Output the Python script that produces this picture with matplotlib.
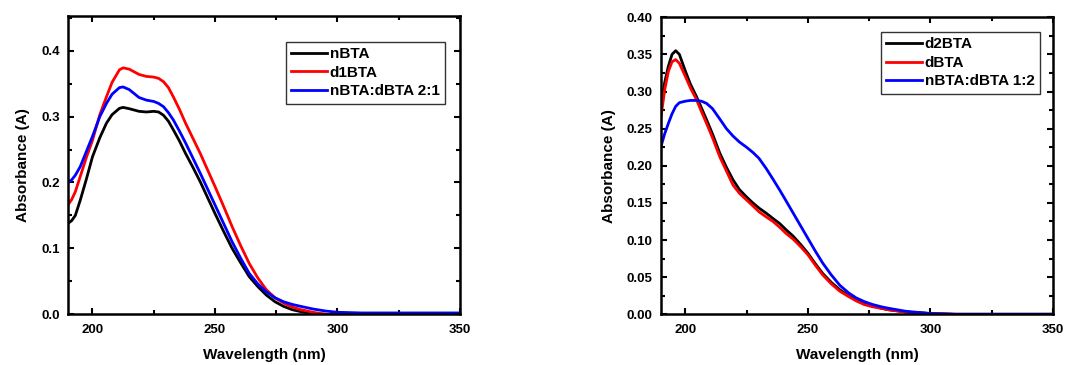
import numpy as np
import matplotlib
matplotlib.use("Agg")
from matplotlib import pyplot as plt
from matplotlib.ticker import MultipleLocator, FormatStrFormatter

# left panel data
wl_a = [190, 191.5, 193, 195, 197.5, 200, 203, 205.7, 208, 211, 212.5, 215, 219, 222, 225, 227, 229, 231, 233,
        235.5, 238, 241, 244, 247, 250, 253.5, 257, 260.5, 264, 267.5, 271, 274.5, 278, 281.5, 285, 290, 295,
        300, 310, 320, 330, 340, 350]
nbta = [0.138, 0.142, 0.150, 0.173, 0.205, 0.239, 0.268, 0.290, 0.303, 0.3125, 0.314, 0.312, 0.308, 0.307, 0.308,
        0.307, 0.302, 0.293, 0.280, 0.263, 0.244, 0.223, 0.201, 0.177, 0.153, 0.126, 0.100, 0.078, 0.057, 0.042,
        0.029, 0.019, 0.012, 0.007, 0.004, 0.001, 0.0, -0.001, -0.002, -0.002, -0.002, -0.001, -0.001]
d1bta = [0.166, 0.174, 0.186, 0.209, 0.238, 0.264, 0.303, 0.330, 0.352, 0.371, 0.374, 0.372, 0.364, 0.361, 0.360,
         0.358, 0.353, 0.344, 0.330, 0.311, 0.290, 0.267, 0.244, 0.219, 0.194, 0.164, 0.133, 0.104, 0.077, 0.055,
         0.037, 0.025, 0.017, 0.011, 0.007, 0.003, 0.0, -0.001, -0.003, -0.003, -0.003, -0.002, -0.002]
blend21 = [0.200, 0.204, 0.211, 0.224, 0.247, 0.270, 0.300, 0.320, 0.334, 0.344, 0.345, 0.341, 0.329, 0.325, 0.323,
           0.320, 0.315, 0.306, 0.295, 0.278, 0.260, 0.237, 0.214, 0.190, 0.166, 0.138, 0.110, 0.085, 0.062, 0.046,
           0.034, 0.025, 0.019, 0.015, 0.012, 0.008, 0.005, 0.003, 0.002, 0.002, 0.002, 0.002, 0.002]

# right panel data
wl_b = [190, 191.5, 193, 194.5, 196, 197.5, 200, 202, 204.5, 206.5, 208.6, 211, 214, 216.7, 219.4, 222, 224.9,
        227.5, 230, 233, 235.7, 238.5, 241, 244, 247, 250, 253, 256, 259.5, 263, 266.5, 269.7, 273, 276.5, 280,
        283, 290, 300, 310, 320, 335, 350]
d2bta = [0.280, 0.312, 0.334, 0.350, 0.355, 0.350, 0.327, 0.310, 0.293, 0.278, 0.262, 0.243, 0.217, 0.198, 0.181,
         0.168, 0.158, 0.150, 0.143, 0.136, 0.129, 0.122, 0.114, 0.105, 0.094, 0.082, 0.068, 0.055, 0.043, 0.033,
         0.025, 0.019, 0.014, 0.011, 0.008, 0.006, 0.003, 0.001, 0.0, 0.0, 0.0, 0.0]
dbta = [0.266, 0.302, 0.327, 0.340, 0.343, 0.338, 0.320, 0.305, 0.289, 0.273, 0.257, 0.238, 0.212, 0.193, 0.174,
        0.163, 0.154, 0.146, 0.138, 0.131, 0.125, 0.117, 0.109, 0.101, 0.091, 0.080, 0.066, 0.053, 0.041, 0.031,
        0.024, 0.018, 0.013, 0.010, 0.008, 0.006, 0.003, 0.001, 0.0, 0.0, 0.0, 0.0]
blend12 = [0.226, 0.243, 0.257, 0.270, 0.280, 0.285, 0.287, 0.288, 0.288, 0.287, 0.284, 0.277, 0.263, 0.250, 0.240,
           0.232, 0.225, 0.218, 0.210, 0.196, 0.182, 0.167, 0.153, 0.136, 0.119, 0.102, 0.085, 0.069, 0.053, 0.039,
           0.029, 0.022, 0.017, 0.013, 0.010, 0.008, 0.004, 0.001, 0.0, 0.0, 0.0, 0.0]

plt.rcParams['font.family'] = ['Liberation Sans', 'DejaVu Sans']
plt.rcParams['font.weight'] = 'bold'
plt.rcParams['axes.labelweight'] = 'bold'

fig = plt.figure(figsize=(10.79, 3.65), dpi=100)
ax1 = fig.add_axes([0.063, 0.139, 0.3633, 0.817])
ax2 = fig.add_axes([0.6126, 0.139, 0.3633, 0.8137])


def style(ax, ymajor, yminor, ylim, leg_anchor):
    ax.set_xlim(190, 350)
    ax.set_ylim(*ylim)
    ax.xaxis.set_major_locator(MultipleLocator(50))
    ax.xaxis.set_minor_locator(MultipleLocator(25))
    ax.yaxis.set_major_locator(MultipleLocator(ymajor))
    ax.yaxis.set_minor_locator(MultipleLocator(yminor))
    ax.tick_params(which='both', direction='in', top=True, right=True, width=1.5, labelsize=9.5)
    ax.tick_params(which='major', length=4)
    ax.tick_params(which='minor', length=3)
    ax.tick_params(axis='x', pad=7)
    ax.tick_params(axis='y', pad=6)
    for s in ax.spines.values():
        s.set_linewidth(1.8)
    ax.set_xlabel('Wavelength (nm)', fontsize=11, labelpad=9)
    ax.set_ylabel('Absorbance (A)', fontsize=11, labelpad=8)
    leg = ax.legend(loc='upper right', bbox_to_anchor=leg_anchor, fontsize=11, fancybox=False, framealpha=1,
                    handlelength=2.35, handletextpad=0.2, borderpad=0.35, labelspacing=0.3,
                    borderaxespad=0.0)
    leg.get_frame().set_edgecolor('#333333')
    leg.get_frame().set_linewidth(1.0)


ax1.plot(wl_a, nbta, color='black', lw=2, label='nBTA')
ax1.plot(wl_a, d1bta, color='red', lw=2, label='d1BTA')
ax1.plot(wl_a, blend21, color='blue', lw=2, label='nBTA:dBTA 2:1')
style(ax1, 0.1, 0.05, (0, 0.4526), (0.962, 0.914))
ax1.yaxis.set_major_formatter(FormatStrFormatter('%.1f'))

ax2.plot(wl_b, d2bta, color='black', lw=2, label='d2BTA')
ax2.plot(wl_b, dbta, color='red', lw=2, label='dBTA')
ax2.plot(wl_b, blend12, color='blue', lw=2, label='nBTA:dBTA 1:2')
style(ax2, 0.05, 0.025, (0, 0.40), (0.967, 0.9505))
ax2.yaxis.set_major_formatter(FormatStrFormatter('%.2f'))

fig.savefig('out.png', dpi=100)
